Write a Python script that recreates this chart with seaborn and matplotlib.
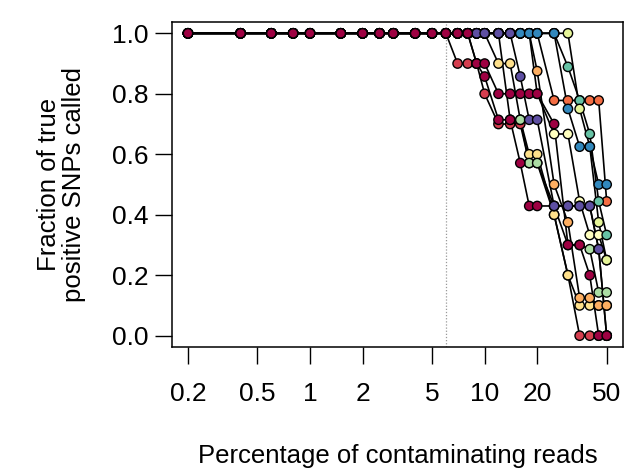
import pandas as pd
import matplotlib
matplotlib.use("Agg")
import matplotlib.pyplot as plt
import seaborn as sns

# percentage of contaminating reads (x grid shared by all samples)
pct = [0.2, 0.4, 0.6, 0.8, 1, 1.5, 2, 2.5, 3, 4, 5, 6,
       7, 8, 9, 10, 12, 14, 16, 18, 20, 25, 30, 35, 40, 45, 50]

# fraction of true positive SNPs called, one list per sample (draw order)
s_red = [1, 1, 1, 1, 1, 1, 1, 1, 1, 1, 1, 1,
         0.9, 0.9, 0.9, 0.8, 0.7, 0.7, 0.7, 0.571, 0.571, 0.4, 0.2, 0, 0, 0, 0]
s_ltyellow = [1, 1, 1, 1, 1, 1, 1, 1, 1, 1, 1, 1,
              1, 1, 1, 1, 1, 1, 1, 1, 0.8, 0.667, 0.667, 0.444, 0.333, 0.333, 0.25]
s_yellow = [1, 1, 1, 1, 1, 1, 1, 1, 1, 1, 1, 1,
            1, 1, 1, 1, 0.9, 0.9, 0.714, 0.6, 0.6, 0.4, 0.2, 0.1, 0.1, 0.1, 0.1]
s_ltorange = [1, 1, 1, 1, 1, 1, 1, 1, 1, 1, 1, 1,
              1, 1, 1, 1, 1, 1, 1, 1, 0.875, 0.5, 0.375, 0.125, 0.125, 0.1, 0.1]
s_orange = [1, 1, 1, 1, 1, 1, 1, 1, 1, 1, 1, 1,
            1, 1, 1, 1, 1, 1, 1, 1, 1, 0.778, 0.778, 0.778, 0.778, 0.778, 0.444]
s_green = [1, 1, 1, 1, 1, 1, 1, 1, 1, 1, 1, 1,
           1, 1, 1, 1, 1, 0.714, 0.714, 0.571, 0.571, 0.429, 0.3, 0.3, 0.286, 0.143, 0.143]
s_teal = [1, 1, 1, 1, 1, 1, 1, 1, 1, 1, 1, 1,
          1, 1, 1, 1, 1, 1, 1, 1, 1, 1, 0.889, 0.778, 0.667, 0.444, 0.333]
s_lime = [1, 1, 1, 1, 1, 1, 1, 1, 1, 1, 1, 1,
          1, 1, 1, 1, 1, 1, 1, 1, 1, 1, 1, 0.75, 0.625, 0.375, 0.25]
s_blue = [1, 1, 1, 1, 1, 1, 1, 1, 1, 1, 1, 1,
          1, 1, 1, 1, 1, 1, 1, 1, 1, 1, 0.75, 0.625, 0.625, 0.5, 0.5]
s_darkred2 = [1, 1, 1, 1, 1, 1, 1, 1, 1, 1, 1, 1,
              1, 1, 0.9, 0.857, 0.714, 0.714, 0.571, 0.429, 0.429, 0.429, 0.429, 0.429, 0.429, 0.286, 0]
s_purple = [1, 1, 1, 1, 1, 1, 1, 1, 1, 1, 1, 1,
            1, 1, 1, 1, 1, 1, 0.857, 0.714, 0.714, 0.429, 0.429, 0.429, 0.429, 0.286, 0]
s_darkred = [1, 1, 1, 1, 1, 1, 1, 1, 1, 1, 1, 1,
             1, 1, 0.9, 0.9, 0.8, 0.8, 0.8, 0.8, 0.8, 0.7, 0.3, 0.3, 0.2, 0, 0]

samples = ["red", "ltyellow", "yellow", "ltorange", "orange", "green",
           "teal", "lime", "blue", "darkred2", "purple", "darkred"]
series = [s_red, s_ltyellow, s_yellow, s_ltorange, s_orange, s_green,
          s_teal, s_lime, s_blue, s_darkred2, s_purple, s_darkred]
colors = ["#d53e4f", "#ffffbf", "#fee08b", "#fdae61", "#f46d43", "#abdda4",
          "#66c2a5", "#e6f598", "#3288bd", "#9e0142", "#5e4fa2", "#9e0142"]

rows = []
for name, vals in zip(samples, series):
    for x, y in zip(pct, vals):
        rows.append({"sample": name, "pct": x, "frac": y})
df = pd.DataFrame(rows)

sns.set_theme(style="ticks")
plt.rcParams["font.family"] = ["Liberation Sans", "DejaVu Sans"]
plt.rcParams["text.color"] = "black"
plt.rcParams["axes.labelcolor"] = "black"

fig = plt.figure(figsize=(6.28, 4.71), dpi=100)
ax = fig.add_axes([172 / 628, 1 - 347 / 471, 451 / 628, 325 / 471])

ax.axvline(6, color="#999999", lw=0.9, ls=(0, (1, 1.5)), zorder=0)

sns.lineplot(data=df, x="pct", y="frac", units="sample", estimator=None,
             color="black", lw=1.2, sort=False, ax=ax, zorder=2)
sns.scatterplot(data=df, x="pct", y="frac", hue="sample",
                palette=dict(zip(samples, colors)), edgecolor="black",
                linewidth=1.0, s=45, legend=False, ax=ax, zorder=3)

ax.set_xscale("log")
ax.set_xlim(0.162, 62)
ax.set_ylim(-0.0374, 1.0374)
ax.set_xticks([0.2, 0.5, 1, 2, 5, 10, 20, 50])
ax.set_xticklabels(["0.2", "0.5", "1", "2", "5", "10", "20", "50"])
ax.minorticks_off()
ax.set_yticks([0, 0.2, 0.4, 0.6, 0.8, 1.0])
ax.set_yticklabels(["0.0", "0.2", "0.4", "0.6", "0.8", "1.0"])
ax.tick_params(axis="both", direction="out", length=12, width=1,
               labelsize=19, colors="black")
ax.tick_params(axis="x", pad=13)
ax.tick_params(axis="y", pad=5)
for sp in ax.spines.values():
    sp.set_visible(True)
    sp.set_linewidth(1.1)
    sp.set_color("black")

ax.set_xlabel("Percentage of contaminating reads", fontsize=18.5)
ax.set_ylabel("Fraction of true\npositive SNPs called", fontsize=18.5,
              linespacing=1.05)
ax.xaxis.set_label_coords(0.5, -0.30)
ax.yaxis.set_label_coords(-0.19, 0.5)

plt.savefig("out.png", dpi=100)
